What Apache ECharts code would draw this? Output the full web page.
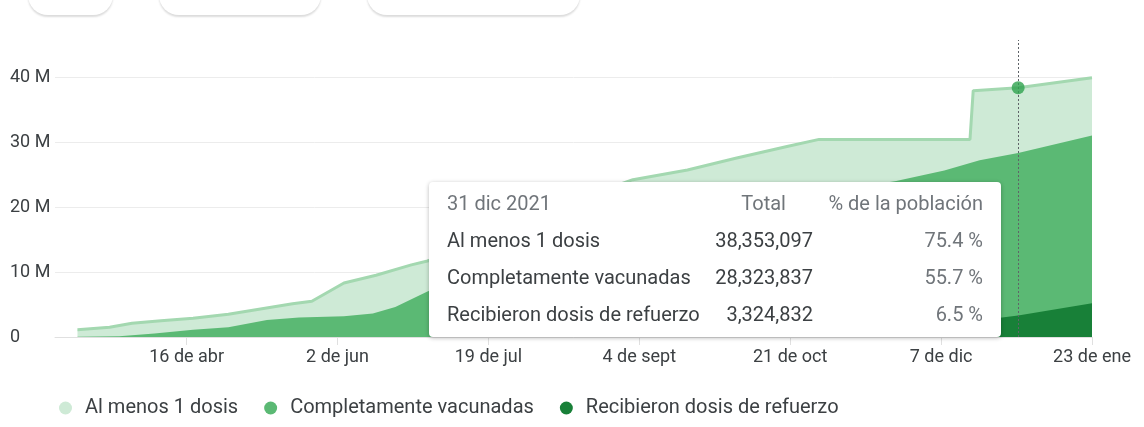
<!DOCTYPE html>
<html>
<head>
<meta charset="utf-8">
<script src="https://cdn.jsdelivr.net/npm/echarts@6/dist/echarts.min.js"></script>
<style>
  html, body { margin: 0; padding: 0; background: #fff; }
  #chart { width: 1144px; height: 427px; }
</style>
</head>
<body>
<div id="chart"></div>
<script>
// Al menos 1 dosis (millones)
const firstDates = ['2021-03-13','2021-03-23','2021-03-30','2021-04-08','2021-04-18','2021-04-29','2021-05-09','2021-05-19','2021-05-25','2021-06-04','2021-06-14','2021-06-25','2021-06-30','2021-07-10','2021-07-19','2021-08-01','2021-08-13','2021-08-22','2021-09-02','2021-09-19','2021-10-04','2021-10-20','2021-10-30','2021-12-16','2021-12-17','2021-12-31','2022-01-23']
const firstValues = [1.1, 1.5, 2.1, 2.5, 2.9, 3.5, 4.3, 5.1, 5.5, 8.3, 9.5, 11.1, 11.7, 13.3, 15.2, 17.8, 20.3, 22.3, 24.2, 25.7, 27.5, 29.3, 30.4, 30.4, 37.9, 38.353097, 39.9]

// Completamente vacunadas (millones)
const fullDates = ['2021-03-13','2021-03-26','2021-04-06','2021-04-18','2021-04-29','2021-05-11','2021-05-21','2021-06-04','2021-06-13','2021-06-20','2021-06-30','2021-07-10','2021-07-19','2021-08-04','2021-08-20','2021-09-04','2021-09-20','2021-10-05','2021-10-20','2021-11-05','2021-11-23','2021-12-08','2021-12-19','2021-12-31','2022-01-23']
const fullValues = [0.02, 0.1, 0.55, 1.1, 1.5, 2.6, 3.0, 3.2, 3.6, 4.6, 7.0, 8.8, 10.5, 13.2, 15.5, 17.4, 19.0, 20.5, 21.7, 22.6, 24.0, 25.6, 27.2, 28.323837, 31.0]

// Recibieron dosis de refuerzo (millones)
const boostDates = ['2021-10-05','2021-10-20','2021-11-10','2021-11-25','2021-12-10','2021-12-26','2021-12-31','2022-01-23']
const boostValues = [0, 0.2, 0.8, 1.5, 2.2, 3.0, 3.324832, 5.2]

const seriesNames = ['Al menos 1 dosis', 'Completamente vacunadas', 'Recibieron dosis de refuerzo']

const xTickDates = ['2021-04-16','2021-06-02','2021-07-19','2021-09-04','2021-10-21','2021-12-07','2022-01-23']
const xTickLabels = ['16 de abr','2 de jun','19 de jul','4 de sept','21 de oct','7 de dic','23 de ene']

// punto marcado (tooltip)
const tipDate = '2021-12-31'
const tipTitle = '31 dic 2021'
const tipTotals = [38353097, 28323837, 3324832]
const tipPercents = ['75.4 %', '55.7 %', '6.5 %']

const xMin = '2021-03-06'
const xMax = '2022-01-23'

const ts = (s) => Date.parse(s)
const pairs = (dates, vals) => dates.map((d, i) => [ts(d), vals[i] * 1e6])
const fmt = (n) => n.toLocaleString('en-US')

const FONT = 'Roboto, sans-serif'
const colors = ['#ceead6', '#5bb974', '#188038']

function tipHtml() {
  const cell = (text, top, side, pos, color) =>
    `<div style="position:absolute;top:${top}px;${side}:${pos}px;color:${color};white-space:nowrap;">${text}</div>`
  const rowTops = [46, 83, 120]
  let h = `<div style="position:relative;width:572px;height:155px;font-family:${FONT};font-size:20px;line-height:24px;">`
  h += cell(tipTitle, 9, 'left', 18, '#70757a')
  h += cell('Total', 9, 'right', 215, '#70757a')
  h += cell('% de la población', 9, 'right', 18, '#70757a')
  seriesNames.forEach((name, i) => {
    h += cell(name, rowTops[i], 'left', 18, '#3c4043')
    h += cell(fmt(tipTotals[i]), rowTops[i], 'right', 188, '#3c4043')
    h += cell(tipPercents[i], rowTops[i], 'right', 18, '#70757a')
  })
  h += '</div>'
  return h
}

// botones recortados arriba
const chip = (x, w) => ({
  type: 'rect',
  x: x, y: -30,
  shape: { width: w, height: 45, r: 20 },
  style: { fill: '#fff', shadowBlur: 2, shadowOffsetY: 2, shadowColor: 'rgba(0,0,0,0.14)' },
  silent: true
})

const chart = echarts.init(document.getElementById('chart'))

const option = {
  animation: false,
  textStyle: { fontFamily: FONT },
  grid: [
    { left: 55, right: 52, top: 77, bottom: 90 },
    { left: 55, right: 52, top: 40, bottom: 90 }
  ],
  graphic: [chip(28, 85), chip(159, 162), chip(367, 213)],
  tooltip: {
    trigger: 'item',
    triggerOn: 'none',
    alwaysShowContent: true,
    transitionDuration: 0,
    position: [429, 182],
    padding: 0,
    borderWidth: 0,
    backgroundColor: '#fff',
    extraCssText: 'box-shadow:0 1px 4px rgba(0,0,0,0.28);border-radius:4px;',
    formatter: tipHtml
  },
  legend: {
    data: seriesNames,
    left: 54,
    top: 393,
    icon: 'circle',
    itemWidth: 13,
    itemHeight: 13,
    itemGap: 26,
    selectedMode: false,
    textStyle: { fontSize: 20, color: '#3c4043', fontFamily: FONT, padding: [0, 0, 0, 8] }
  },
  xAxis: [
    {
      gridIndex: 0,
      type: 'value',
      min: ts(xMin),
      max: ts(xMax),
      axisLine: { show: true, lineStyle: { color: '#e0e0e0' } },
      axisTick: { show: true, length: 8, lineStyle: { color: '#e0e0e0' }, customValues: xTickDates.map(ts) },
      axisLabel: {
        customValues: xTickDates.map(ts),
        color: '#3c4043',
        fontSize: 18,
        fontFamily: FONT,
        margin: 11,
        formatter: (v) => {
          const i = xTickDates.map(ts).indexOf(v)
          return i >= 0 ? xTickLabels[i] : ''
        }
      },
      splitLine: { show: false }
    },
    { gridIndex: 1, type: 'value', min: ts(xMin), max: ts(xMax), show: false }
  ],
  yAxis: [
    {
      gridIndex: 0,
      type: 'value',
      min: 0,
      max: 40e6,
      interval: 10e6,
      axisLine: { show: false },
      axisTick: { show: false },
      axisLabel: {
        align: 'left',
        margin: 45,
        color: '#3c4043',
        fontSize: 18,
        fontFamily: FONT,
        formatter: (v) => (v === 0 ? '0' : (v / 1e6) + ' M')
      },
      splitLine: { lineStyle: { color: '#ececec' } }
    },
    { gridIndex: 1, type: 'value', min: 0, max: 1, show: false }
  ],
  series: [
    {
      name: seriesNames[0],
      type: 'line',
      data: pairs(firstDates, firstValues),
      symbol: 'none',
      lineStyle: { color: '#a3d8b0', width: 3 },
      areaStyle: { color: colors[0], opacity: 1 },
      itemStyle: { color: colors[0] },
      tooltip: { show: false },
      silent: true,
      z: 2
    },
    {
      name: seriesNames[1],
      type: 'line',
      data: pairs(fullDates, fullValues),
      symbol: 'none',
      lineStyle: { width: 0 },
      areaStyle: { color: colors[1], opacity: 1 },
      itemStyle: { color: colors[1] },
      tooltip: { show: false },
      silent: true,
      z: 3
    },
    {
      name: seriesNames[2],
      type: 'line',
      data: pairs(boostDates, boostValues),
      symbol: 'none',
      lineStyle: { width: 0 },
      areaStyle: { color: colors[2], opacity: 1 },
      itemStyle: { color: colors[2] },
      tooltip: { show: false },
      silent: true,
      z: 4
    },
    {
      // línea punteada vertical
      type: 'line',
      xAxisIndex: 1,
      yAxisIndex: 1,
      data: [[ts(tipDate), 0]],
      symbol: 'none',
      lineStyle: { opacity: 0 },
      silent: true,
      tooltip: { show: false },
      z: 5,
      markLine: {
        symbol: 'none',
        silent: true,
        label: { show: false },
        lineStyle: { color: '#5f6368', type: [2, 2], width: 1 },
        data: [{ xAxis: ts(tipDate) }]
      }
    },
    {
      type: 'scatter',
      data: [[ts(tipDate), tipTotals[0]]],
      symbolSize: 13,
      itemStyle: { color: '#2fa24f' },
      emphasis: { disabled: true },
      z: 6
    }
  ]
}

chart.setOption(option)
chart.dispatchAction({ type: 'showTip', seriesIndex: 4, dataIndex: 0 })
</script>
</body>
</html>
